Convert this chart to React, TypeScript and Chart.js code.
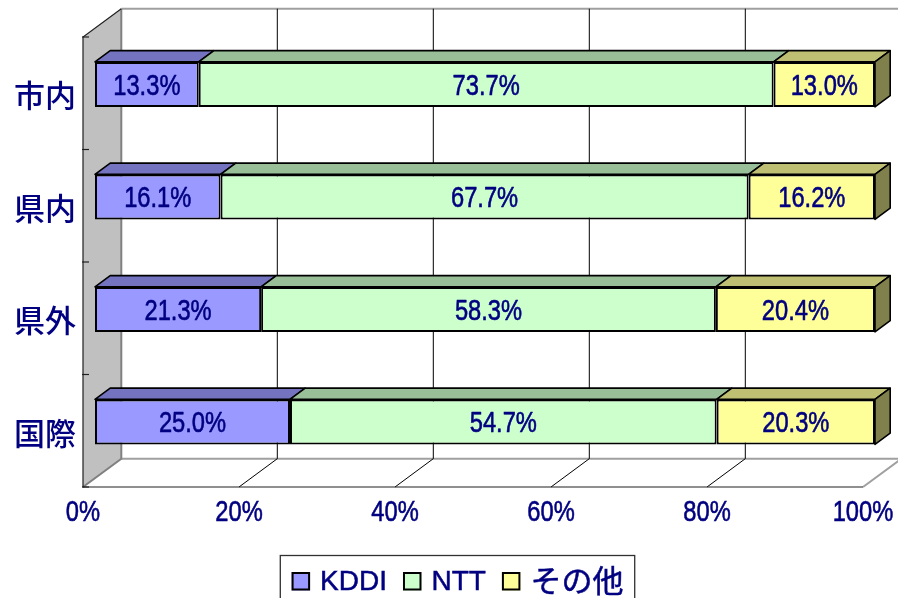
import React, { useEffect, useRef } from "react";
import { Chart, registerables } from "chart.js";

Chart.register(...registerables);

const categories = ["市内", "県内", "県外", "国際"];
const seriesNames = ["KDDI", "NTT", "その他"];
const kddiValues = [13.3, 16.1, 21.3, 25.0];
const nttValues = [73.7, 67.7, 58.3, 54.7];
const otherValues = [13.0, 16.2, 20.4, 20.3];
const xTickLabels = ["0%", "20%", "40%", "60%", "80%", "100%"];

const frontColors = ["#9999FF", "#CCFFCC", "#FFFF99"];
const topColors = ["#7373BF", "#99BF99", "#BFBF73"];
const sideColors = ["#56568F", "#739073", "#80804D"];

const NAVY = "#000080";
const LATIN_FONT = '"Liberation Sans", Arial, "Noto Sans CJK JP", sans-serif';
const CJK_FONT = '"Noto Sans CJK JP", "Noto Sans", sans-serif';
const NARROW = 0.79;

const DX = 38.3;
const DY = -28.3;
const BAR_D0 = 0.313;
const BAR_D1 = 0.71;

function poly(ctx: CanvasRenderingContext2D, pts: number[][]) {
  ctx.beginPath();
  ctx.moveTo(pts[0][0], pts[0][1]);
  for (let i = 1; i < pts.length; i++) ctx.lineTo(pts[i][0], pts[i][1]);
  ctx.closePath();
}

function narrowText(ctx: CanvasRenderingContext2D, text: string, x: number, y: number, size: number) {
  ctx.save();
  ctx.translate(x, y);
  ctx.scale(NARROW, 1);
  ctx.font = `${size}px ${LATIN_FONT}`;
  ctx.textAlign = "center";
  ctx.textBaseline = "middle";
  ctx.fillStyle = NAVY;
  ctx.strokeStyle = NAVY;
  ctx.lineWidth = 0.6;
  ctx.fillText(text, 0, 0);
  ctx.strokeText(text, 0, 0);
  ctx.restore();
}

const threeD = {
  id: "threeD",
  beforeDatasetsDraw(chart: any) {
    const { ctx, chartArea, scales } = chart;
    const { left, right, top, bottom } = chartArea;
    const xs = scales.x;
    ctx.save();
    // floor
    poly(ctx, [
      [left, bottom],
      [right, bottom],
      [right + DX, bottom + DY],
      [left + DX, bottom + DY],
    ]);
    ctx.fillStyle = "#FFFFFF";
    ctx.fill();
    ctx.strokeStyle = "#A0A0A0";
    ctx.lineWidth = 2;
    ctx.beginPath();
    ctx.moveTo(left + DX, bottom + DY);
    ctx.lineTo(right + DX, bottom + DY);
    ctx.lineTo(right, bottom);
    ctx.stroke();
    // back wall top and right edge
    ctx.beginPath();
    ctx.moveTo(left + DX, top + DY);
    ctx.lineTo(right + DX, top + DY);
    ctx.lineTo(right + DX, bottom + DY);
    ctx.stroke();
    // gridlines on back wall and floor
    ctx.strokeStyle = "#000000";
    ctx.lineWidth = 1;
    xs.ticks.forEach((t: any) => {
      if (t.value <= xs.min || t.value >= xs.max) return;
      const px = xs.getPixelForValue(t.value);
      ctx.beginPath();
      ctx.moveTo(px + DX, top + DY);
      ctx.lineTo(px + DX, bottom + DY);
      ctx.lineTo(px, bottom);
      ctx.stroke();
    });
    // side wall
    poly(ctx, [
      [left, top],
      [left + DX, top + DY],
      [left + DX, bottom + DY],
      [left, bottom],
    ]);
    ctx.fillStyle = "#C0C0C0";
    ctx.fill();
    ctx.strokeStyle = "#808080";
    ctx.lineWidth = 2;
    ctx.beginPath();
    ctx.moveTo(left + DX, top + DY);
    ctx.lineTo(left + DX, bottom + DY);
    ctx.lineTo(left, bottom);
    ctx.stroke();
    ctx.strokeStyle = "#202020";
    ctx.lineWidth = 1.2;
    ctx.beginPath();
    ctx.moveTo(left + DX, top + DY);
    ctx.lineTo(left, top);
    ctx.lineTo(left, bottom);
    ctx.lineTo(right, bottom);
    ctx.stroke();
    // category boundary ticks
    const n = categories.length;
    for (let i = 0; i <= n; i++) {
      const py = top + ((bottom - top) * i) / n;
      ctx.beginPath();
      ctx.moveTo(left - 1, py);
      ctx.lineTo(left + 6, py);
      ctx.stroke();
    }
    // x tick labels on the front floor edge
    xs.ticks.forEach((t: any, i: number) => {
      narrowText(ctx, xTickLabels[i], xs.getPixelForValue(t.value), bottom + 25.5, 30);
    });
    ctx.restore();

    // bars 3D faces (in bar plane)
    ctx.save();
    ctx.translate(DX * BAR_D0, DY * BAR_D0);
    const bdx = DX * (BAR_D1 - BAR_D0);
    const bdy = DY * (BAR_D1 - BAR_D0);
    const nds = chart.data.datasets.length;
    for (let d = 0; d < nds; d++) {
      const meta = chart.getDatasetMeta(d);
      meta.data.forEach((el: any) => {
        const p = el.getProps(["x", "y", "base", "height"], true);
        const x0 = Math.min(p.x, p.base);
        const x1 = Math.max(p.x, p.base);
        const yt = p.y - p.height / 2;
        const yb = p.y + p.height / 2;
        ctx.lineWidth = 1.6;
        ctx.strokeStyle = "#000000";
        ctx.lineJoin = "round";
        poly(ctx, [
          [x0, yt],
          [x1, yt],
          [x1 + bdx, yt + bdy],
          [x0 + bdx, yt + bdy],
        ]);
        ctx.fillStyle = topColors[d];
        ctx.fill();
        ctx.stroke();
        if (d === nds - 1) {
          poly(ctx, [
            [x1, yt],
            [x1 + bdx, yt + bdy],
            [x1 + bdx, yb + bdy],
            [x1, yb],
          ]);
          ctx.fillStyle = sideColors[d];
          ctx.fill();
          ctx.stroke();
        }
      });
    }
    // translation kept for Chart.js bar drawing; restored in afterDatasetsDraw
  },
  afterDatasetsDraw(chart: any) {
    const { ctx } = chart;
    chart.data.datasets.forEach((ds: any, d: number) => {
      const meta = chart.getDatasetMeta(d);
      meta.data.forEach((el: any, i: number) => {
        const p = el.getProps(["x", "y", "base"], true);
        const v = ds.data[i];
        narrowText(ctx, v.toFixed(1) + "%", (p.x + p.base) / 2, p.y + 2.3, 30);
      });
    });
    ctx.restore();
  },
  afterDraw(chart: any) {
    const { ctx } = chart;
    ctx.save();
    const box = 18.5;
    const gapBoxText = 10;
    const gapItem = 16;
    const isCjk = (s: string) => /[\u3000-\u9fff]/.test(s);
    const fontFor = (s: string) => (isCjk(s) ? `31px ${CJK_FONT}` : `28px ${LATIN_FONT}`);
    const widths = seriesNames.map((s) => {
      ctx.font = fontFor(s);
      return ctx.measureText(s).width;
    });
    let total = 0;
    widths.forEach((w, i) => {
      total += box + gapBoxText + w + (i < widths.length - 1 ? gapItem : 0);
    });
    const cx = 457.5;
    let x = cx - total / 2;
    const baseline = 590;
    const pad = 11.3;
    ctx.strokeStyle = "#303030";
    ctx.lineWidth = 1.3;
    ctx.strokeRect(x - pad, 555.5, total + pad * 2, 60);
    ctx.textAlign = "left";
    ctx.textBaseline = "alphabetic";
    seriesNames.forEach((s, i) => {
      ctx.fillStyle = frontColors[i];
      ctx.fillRect(x, 572, box, box);
      ctx.strokeStyle = "#000000";
      ctx.lineWidth = 2;
      ctx.strokeRect(x + 1, 573, box - 2, box - 2);
      ctx.fillStyle = NAVY;
      ctx.font = fontFor(s);
      ctx.fillText(s, x + box + gapBoxText, isCjk(s) ? baseline + 2 : baseline);
      ctx.strokeStyle = NAVY;
      ctx.lineWidth = 0.5;
      ctx.strokeText(s, x + box + gapBoxText, isCjk(s) ? baseline + 2 : baseline);
      x += box + gapBoxText + widths[i] + gapItem;
    });
    ctx.restore();
  },
};

export default function App() {
  const ref = useRef<HTMLCanvasElement | null>(null);
  useEffect(() => {
    if (!ref.current) return;
    const seriesValues = [kddiValues, nttValues, otherValues];
    const chart = new Chart(ref.current, {
      type: "bar",
      data: {
        labels: categories,
        datasets: seriesNames.map((name, i) => ({
          label: name,
          data: seriesValues[i],
          backgroundColor: frontColors[i],
          borderColor: "#000000",
          borderWidth: 2,
          borderSkipped: false,
          categoryPercentage: 1,
          barPercentage: 0.4,
          clip: false,
        })),
      },
      options: {
        indexAxis: "y",
        responsive: false,
        animation: false,
        layout: { padding: { top: 37, right: 35, bottom: 0, left: 0 } },
        plugins: { legend: { display: false }, tooltip: { enabled: false } },
        scales: {
          x: {
            stacked: true,
            min: 0,
            max: 100,
            ticks: {
              display: false,
              stepSize: 20,
              autoSkip: false,
              maxRotation: 0,
              callback: (_v: any, i: number) => xTickLabels[i],
            },
            grid: { display: false, drawTicks: false },
            border: { display: false },
            afterFit: (s: any) => {
              s.height = 111;
            },
          },
          y: {
            stacked: true,
            ticks: { color: NAVY, font: { family: CJK_FONT, size: 31, weight: "500" }, padding: 7, labelOffset: 2 },
            grid: { display: false, drawTicks: false },
            border: { display: false },
            afterFit: (s: any) => {
              s.width = 83;
            },
          },
        },
      } as any,
      plugins: [threeD],
    });
    return () => chart.destroy();
  }, []);
  return (
    <div style={{ position: "absolute", left: 0, top: 0, width: 898, height: 598, background: "#fff" }}>
      <canvas ref={ref} width={898} height={598} />
    </div>
  );
}
